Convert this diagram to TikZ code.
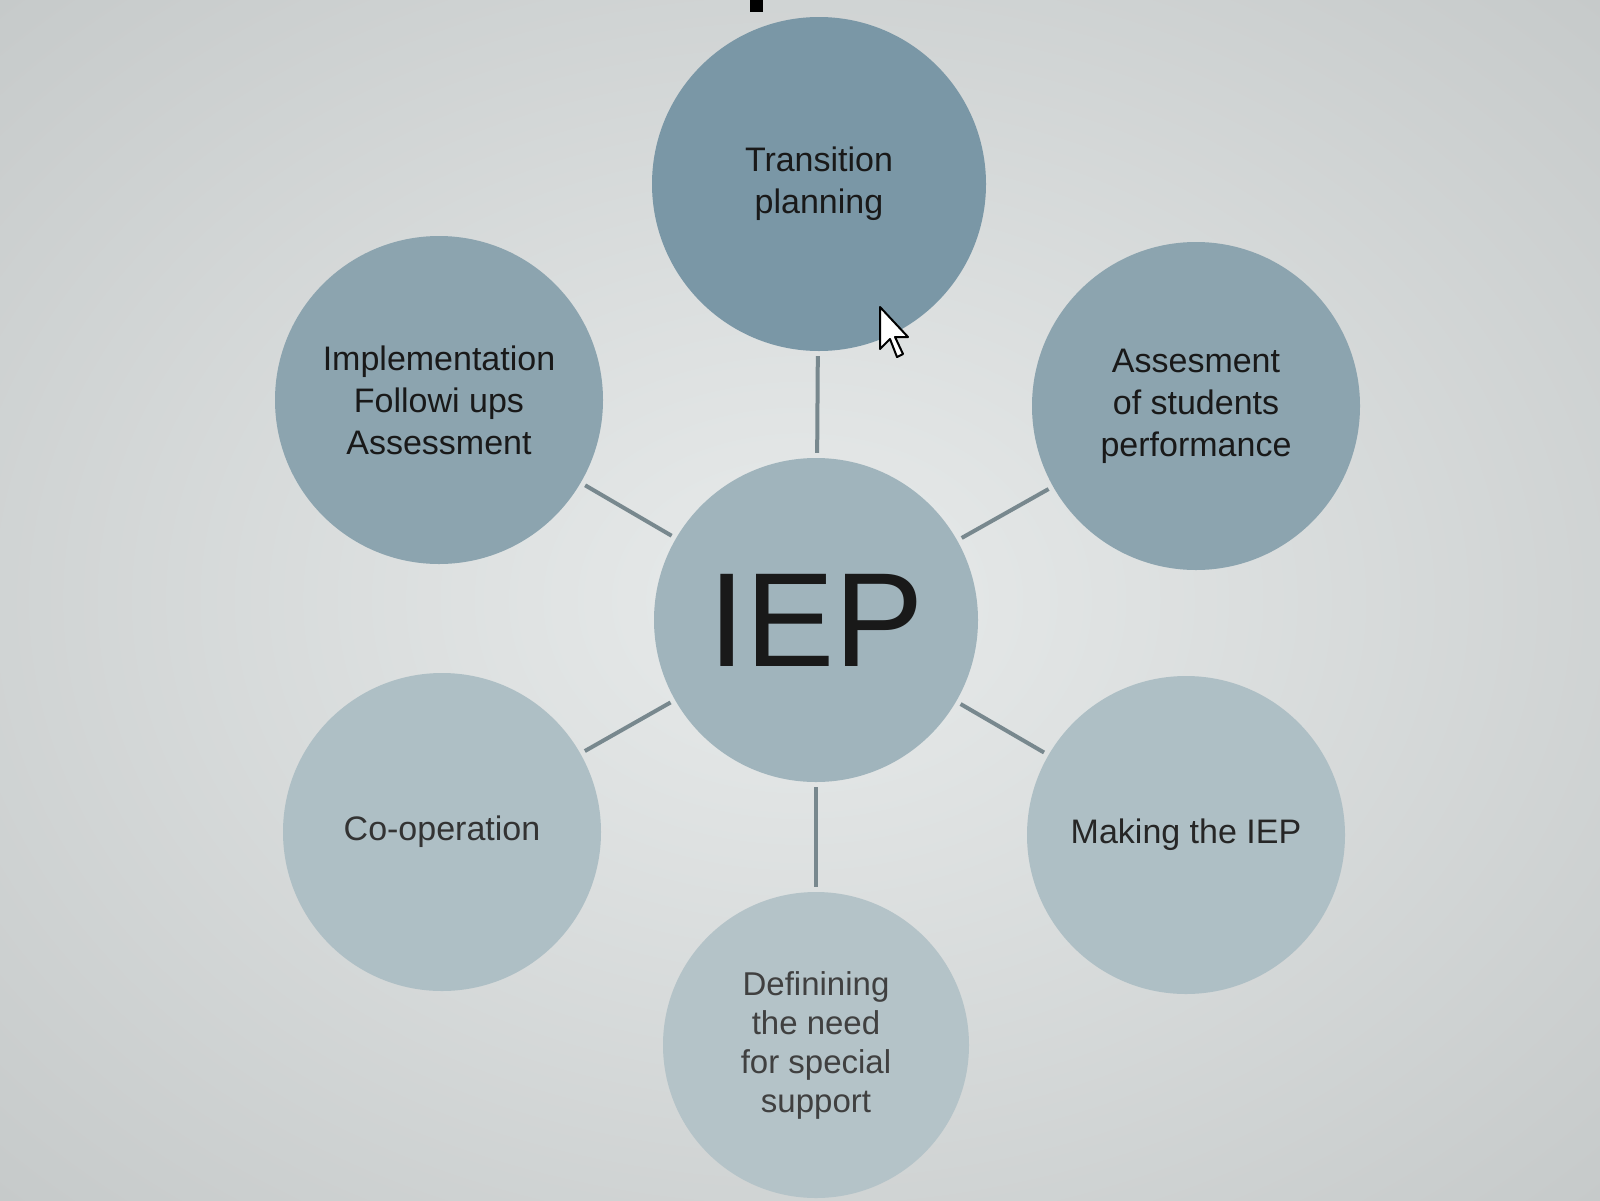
\documentclass[tikz,border=0pt]{standalone}
\usepackage{fontspec}
\setmainfont{Liberation Sans}
\begin{document}
\begin{tikzpicture}[x=1pt,y=-1pt,
  bubble/.style={circle,inner sep=0pt,align=center,text=black!90,font=\fontsize{34}{42}\selectfont},
  link/.style={draw=linkgrey,line width=4pt,shorten <=5pt,shorten >=5pt}]
\definecolor{bgin}{RGB}{232,235,235}
\definecolor{bgout}{RGB}{196,200,200}
\definecolor{ctop}{RGB}{122,151,166}
\definecolor{cup}{RGB}{140,164,175}
\definecolor{cmid}{RGB}{160,180,188}
\definecolor{clow}{RGB}{174,191,197}
\definecolor{cbot}{RGB}{180,195,200}
\definecolor{linkgrey}{RGB}{120,136,142}
\useasboundingbox (0,0) rectangle (1600,1200);
\shade[inner color=bgin,outer color=bgout] (-400,-300) rectangle (2000,1500);
\fill[black] (750,0) rectangle (763,12);
\node[bubble,fill=ctop,minimum size=334pt] (T) at (819,184) {Transition\\planning};
\node[bubble,fill=cup,minimum size=328pt] (UL) at (439,400) {Implementation\\Followi ups\\Assessment};
\node[bubble,fill=cup,minimum size=328pt] (UR) at (1196,406) {Assesment\\of students\\performance};
\node[bubble,fill=cmid,minimum size=324pt,font=\fontsize{134}{140}\selectfont] (C) at (816,620) {IEP};
\node[bubble,fill=clow,minimum size=318pt,text=black!80] (LL) at (442,832) {Co-operation};
\node[bubble,fill=clow,minimum size=318pt,text=black!85] (LR) at (1186,835) {Making the IEP};
\node[bubble,fill=cbot,minimum size=306pt,text=black!75,font=\fontsize{33}{39}\selectfont] (B) at (816,1045) {Definining\\the need\\for special\\support};
\draw[link] (T) -- (C);
\draw[link] (UL) -- (C);
\draw[link] (UR) -- (C);
\draw[link] (LL) -- (C);
\draw[link] (LR) -- (C);
\draw[link] (B) -- (C);
\draw[fill=white,draw=black,line width=2pt,line join=round]
  (880,307) -- ++(0,42) -- ++(10,-10) -- ++(7,18) -- ++(6,-3) -- ++(-8,-17) -- ++(13,0) -- cycle;
\end{tikzpicture}
\end{document}
